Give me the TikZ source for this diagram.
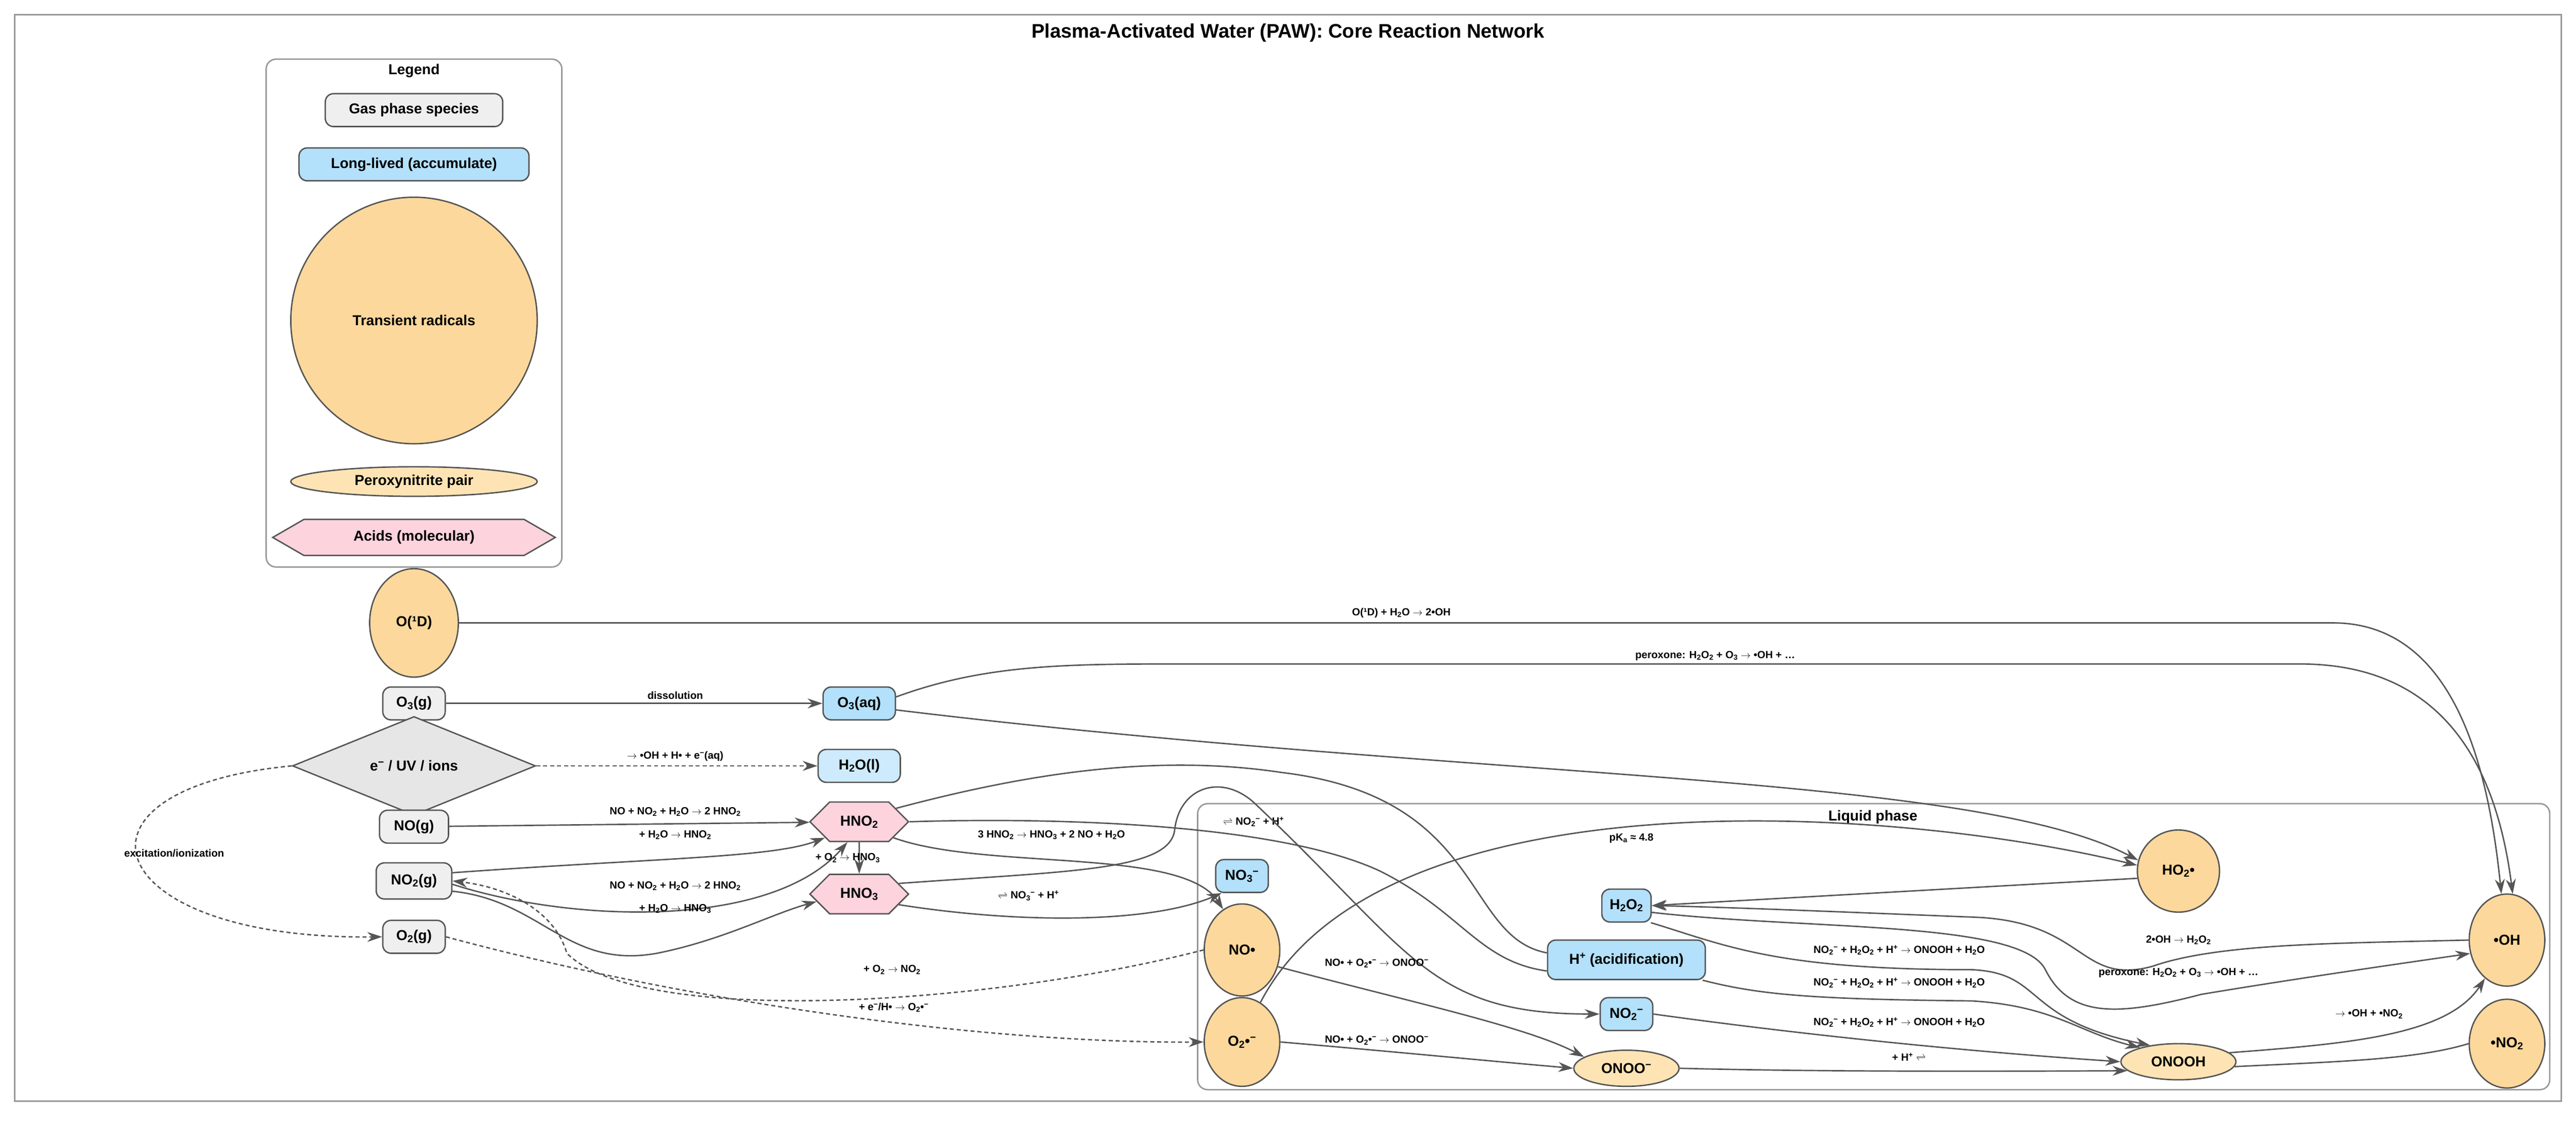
\documentclass[tikz,border=0pt]{standalone}
\usepackage{fontspec}
\setmainfont{Liberation Sans}
\usetikzlibrary{shapes.geometric,shapes.symbols,arrows.meta}
\definecolor{bord}{HTML}{555555}
\definecolor{gasc}{HTML}{EFEFEF}
\definecolor{bluec}{HTML}{B3E0FA}
\definecolor{h2oc}{HTML}{CDEBFC}
\definecolor{radc}{HTML}{FDD89C}
\definecolor{pairc}{HTML}{FEE4B4}
\definecolor{acidc}{HTML}{FDD3DD}
\definecolor{diac}{HTML}{E6E6E6}
\definecolor{framec}{HTML}{999999}
\newcommand\lo[1]{\textsubscript{#1}}
\newcommand\hi[1]{\textsuperscript{#1}}
\newcommand\ar{$\rightarrow$}
\newcommand\eq{$\rightleftharpoons$}
\begin{document}
\begin{tikzpicture}[x=1mm,y=-1mm,
 nf/.style={font=\fontsize{25}{28}\selectfont\bfseries},
 base/.style={nf,draw=bord,line width=2.4pt,inner sep=0pt},
 gas/.style={base,rectangle,rounded corners=5mm,fill=gasc},
 blue/.style={base,rectangle,rounded corners=5mm,fill=bluec},
 h2o/.style={base,rectangle,rounded corners=5mm,fill=h2oc},
 rad/.style={base,ellipse,fill=radc},
 pair/.style={base,ellipse,fill=pairc},
 acid/.style={base,signal,signal to=east and west,fill=acidc},
 dia/.style={base,diamond,fill=diac},
 lab/.style={font=\fontsize{18}{20}\selectfont\bfseries,inner sep=1pt},
 frame/.style={draw=framec,line width=2.5pt,rounded corners=6mm},
 e/.style={draw=bord,line width=2.4pt,-{Stealth[length=9mm,width=6mm]}},
 ne/.style={draw=bord,line width=2.4pt},
 d/.style={e,dash pattern=on 7pt off 5pt},
]
\useasboundingbox (0,0) rectangle (1568,681.9);
\fill[white] (0,0) rectangle (1568,681.9);
\draw[draw=framec,line width=2.5pt] (9,9) rectangle (1559,670);
\node[font=\fontsize{34}{38}\selectfont\bfseries] (title) at (784,20) {Plasma-Activated Water (PAW): Core Reaction Network};
% legend
\draw[frame] (162,36) rectangle (342,345);
\node[font=\fontsize{25}{28}\selectfont\bfseries] (legt) at (252,43) {Legend};
\node[gas,minimum width=108mm,minimum height=20mm] (lg1) at (252,67) {Gas phase species};
\node[blue,minimum width=140mm,minimum height=20mm] (lg2) at (252,100) {Long-lived (accumulate)};
\node[rad,circle,minimum size=150mm] (lg3) at (252,195) {Transient radicals};
\node[pair,minimum width=150mm,minimum height=18mm] (lg4) at (252,293) {Peroxynitrite pair};
\node[acid,signal pointer angle=60,minimum width=172mm,minimum height=22mm] (lg5) at (252,327) {Acids (molecular)};
% liquid phase
\draw[frame] (729,489) rectangle (1552,663);
\node[font=\fontsize{25}{28}\selectfont\bfseries] (liq) at (1140,497) {Liquid phase};
% nodes
\node[rad,minimum width=54mm,minimum height=66mm] (O1D) at (252,379) {O(¹D)};
\node[gas,minimum width=38mm,minimum height=20mm] (O3g) at (252,428) {O\lo{3}(g)};
\node[dia,minimum width=148mm,minimum height=34mm] (eUV) at (252,466) {e\hi{−} / UV / ions};
\node[gas,minimum width=42mm,minimum height=20mm] (NOg) at (252,503) {NO(g)};
\node[gas,minimum width=46mm,minimum height=22mm] (NO2g) at (252,536) {NO\lo{2}(g)};
\node[gas,minimum width=38mm,minimum height=20mm] (O2g) at (252,570) {O\lo{2}(g)};
\node[blue,minimum width=44mm,minimum height=20mm] (O3aq) at (523,428) {O\lo{3}(aq)};
\node[h2o,minimum width=50mm,minimum height=20mm] (H2Ol) at (523,466) {H\lo{2}O(l)};
\node[acid,minimum width=60mm,minimum height=24mm] (HNO2) at (523,500) {HNO\lo{2}};
\node[acid,minimum width=60mm,minimum height=24mm] (HNO3) at (523,544) {HNO\lo{3}};
\node[blue,minimum width=32mm,minimum height=20mm] (NO3m) at (756,533) {NO\lo{3}\hi{−}};
\node[rad,minimum width=46mm,minimum height=56mm] (NOr) at (756,578) {NO•};
\node[rad,minimum width=46mm,minimum height=54mm] (O2r) at (756,634) {O\lo{2}•\hi{−}};
\node[blue,minimum width=30mm,minimum height=20mm] (H2O2) at (990,551) {H\lo{2}O\lo{2}};
\node[blue,minimum width=96mm,minimum height=24mm] (Hp) at (990,584) {H\hi{+} (acidification)};
\node[blue,minimum width=32mm,minimum height=20mm] (NO2m) at (990,617) {NO\lo{2}\hi{−}};
\node[pair,minimum width=64mm,minimum height=22mm] (ONOOm) at (990,650) {ONOO\hi{−}};
\node[rad,minimum width=50mm,minimum height=50mm] (HO2) at (1326,530) {HO\lo{2}•};
\node[pair,minimum width=70mm,minimum height=22mm] (ONOOH) at (1326,646) {ONOOH};
\node[rad,minimum width=46mm,minimum height=56mm] (OH) at (1526,572) {•OH};
\node[rad,minimum width=46mm,minimum height=54mm] (NO2r) at (1526,635) {•NO\lo{2}};
% edges
\draw[e] (O1D.east) -- (1420,379) .. controls (1495,379) and (1515,470) .. (OH.97);
\node[lab] (l1) at (853,373) {O(¹D) + H\lo{2}O \ar{} 2•OH};
\draw[e] (O3g) -- (O3aq);
\node[lab] (l2) at (411,423) {dissolution};
\draw[e] (O3aq.10) .. controls (600,404) and (650,404) .. (720,404) -- (1400,404) .. controls (1490,404) and (1520,470) .. (OH.83);
\node[lab] (l3) at (1044,399) {peroxone: H\lo{2}O\lo{2} + O\lo{3} \ar{} •OH + …};
\draw[e] (O3aq.-10) .. controls (900,475) and (1200,470) .. (HO2.165);
\draw[d] (eUV.east) -- (H2Ol.west);
\node[lab] (l4) at (411,460) {\ar{} •OH + H• + e\hi{−}(aq)};
\draw[d] (eUV.west) .. controls (30,480) and (60,572) .. (O2g.west);
\node[lab] (l5) at (106,519) {excitation/ionization};
\draw[e] (NOg) -- (HNO2);
\node[lab] (l6) at (411,494) {NO + NO\lo{2} + H\lo{2}O \ar{} 2 HNO\lo{2}};
\draw[e] (NO2g.12) .. controls (400,522) and (470,522) .. (HNO2.205);
\node[lab] (l7) at (411,508) {+ H\lo{2}O \ar{} HNO\lo{2}};
\draw[e] (NO2g.-5) .. controls (350,562) and (470,565) .. (HNO2.240);
\node[lab] (l8) at (411,539) {NO + NO\lo{2} + H\lo{2}O \ar{} 2 HNO\lo{2}};
\draw[e] (NO2g.-15) .. controls (330,548) and (345,590) .. (400,580) .. controls (440,572) and (470,556) .. (HNO3.190);
\node[lab] (l9) at (411,553) {+ H\lo{2}O \ar{} HNO\lo{3}};
\draw[d] (NOr.west) .. controls (600,612) and (390,625) .. (345,580) .. controls (338,555) and (310,540) .. (NO2g.east);
\node[lab] (l10) at (543,590) {+ O\lo{2} \ar{} NO\lo{2}};
\draw[e] (HNO2) -- (HNO3);
\node[lab] (l11) at (516,522) {+ O\lo{2} \ar{} HNO\lo{3}};
\draw[e] (HNO2.-25) .. controls (600,530) and (720,515) .. (NOr.115);
\node[lab] (l12) at (640,508) {3 HNO\lo{2} \ar{} HNO\lo{3} + 2 NO + H\lo{2}O};
\draw[ne] (HNO2.20) .. controls (620,472) and (700,458) .. (780,470) .. controls (905,485) and (890,570) .. (Hp.175);
\draw[ne] (HNO2.east) .. controls (650,497) and (780,502) .. (840,530) .. controls (890,555) and (900,585) .. (Hp.188);
\node[lab] (l13) at (763,500) {\eq{} NO\lo{2}\hi{−} + H\hi{+}};
\draw[e] (HNO3.15) .. controls (650,530) and (712,530) .. (715,505) .. controls (718,478) and (745,470) .. (765,490) .. controls (860,580) and (870,617) .. (NO2m.west);
\draw[e] (HNO3.-15) .. controls (620,562) and (700,562) .. (NO3m.220);
\node[lab] (l14) at (626,545) {\eq{} NO\lo{3}\hi{−} + H\hi{+}};
\draw[e] (NOr.-25) .. controls (860,610) and (930,625) .. (ONOOm.165);
\node[lab] (l15) at (838,586) {NO• + O\lo{2}•\hi{−} \ar{} ONOO\hi{−}};
\draw[e] (O2r.east) .. controls (850,640) and (900,645) .. (ONOOm.west);
\node[lab] (l16) at (838,633) {NO• + O\lo{2}•\hi{−} \ar{} ONOO\hi{−}};
\draw[e] (O2r.65) .. controls (840,470) and (1150,490) .. (HO2.172);
\node[lab] (l17) at (993,510) {pK\lo{a} ≈ 4.8};
\draw[d] (O2g.east) .. controls (420,610) and (600,635) .. (O2r.west);
\node[lab] (l18) at (544,613) {+ e\hi{−}/H• \ar{} O\lo{2}•\hi{−}};
\draw[e] (HO2.190) -- (H2O2.east);
\draw[e] (OH.west) .. controls (1420,574) and (1350,574) .. (1310,588) .. controls (1265,600) and (1270,560) .. (1200,558) .. controls (1100,554) and (1050,552) .. (H2O2.east);
\node[lab] (l19) at (1326,572) {2•OH \ar{} H\lo{2}O\lo{2}};
\draw[e] (H2O2.-15) .. controls (1100,566) and (1230,560) .. (1245,590) .. controls (1260,620) and (1290,618) .. (1340,605) .. controls (1400,595) and (1470,585) .. (OH.200);
\node[lab] (l20) at (1326,592) {peroxone: H\lo{2}O\lo{2} + O\lo{3} \ar{} •OH + …};
\draw[e] (H2O2.-35) .. controls (1050,575) and (1080,590) .. (1200,590) .. controls (1245,592) and (1230,620) .. (ONOOH.150);
\node[lab] (l21) at (1156,578) {NO\lo{2}\hi{−} + H\lo{2}O\lo{2} + H\hi{+} \ar{} ONOOH + H\lo{2}O};
\draw[e] (Hp.-15) .. controls (1070,605) and (1100,608) .. (1200,609) .. controls (1250,612) and (1265,628) .. (ONOOH.160);
\node[lab] (l22) at (1156,598) {NO\lo{2}\hi{−} + H\lo{2}O\lo{2} + H\hi{+} \ar{} ONOOH + H\lo{2}O};
\draw[e] (NO2m.east) .. controls (1100,630) and (1200,640) .. (ONOOH.west);
\node[lab] (l23) at (1156,622) {NO\lo{2}\hi{−} + H\lo{2}O\lo{2} + H\hi{+} \ar{} ONOOH + H\lo{2}O};
\draw[e] (ONOOm.east) .. controls (1100,652) and (1200,652) .. (ONOOH.190);
\node[lab] (l24) at (1162,643) {+ H\hi{+} \eq};
\draw[e] (ONOOH.10) .. controls (1430,635) and (1490,630) .. (OH.240);
\node[lab] (l25) at (1442,617) {\ar{} •OH + •NO\lo{2}};
\draw[ne] (ONOOH.-5) .. controls (1420,646) and (1470,645) .. (NO2r.west);
\end{tikzpicture}
\end{document}
